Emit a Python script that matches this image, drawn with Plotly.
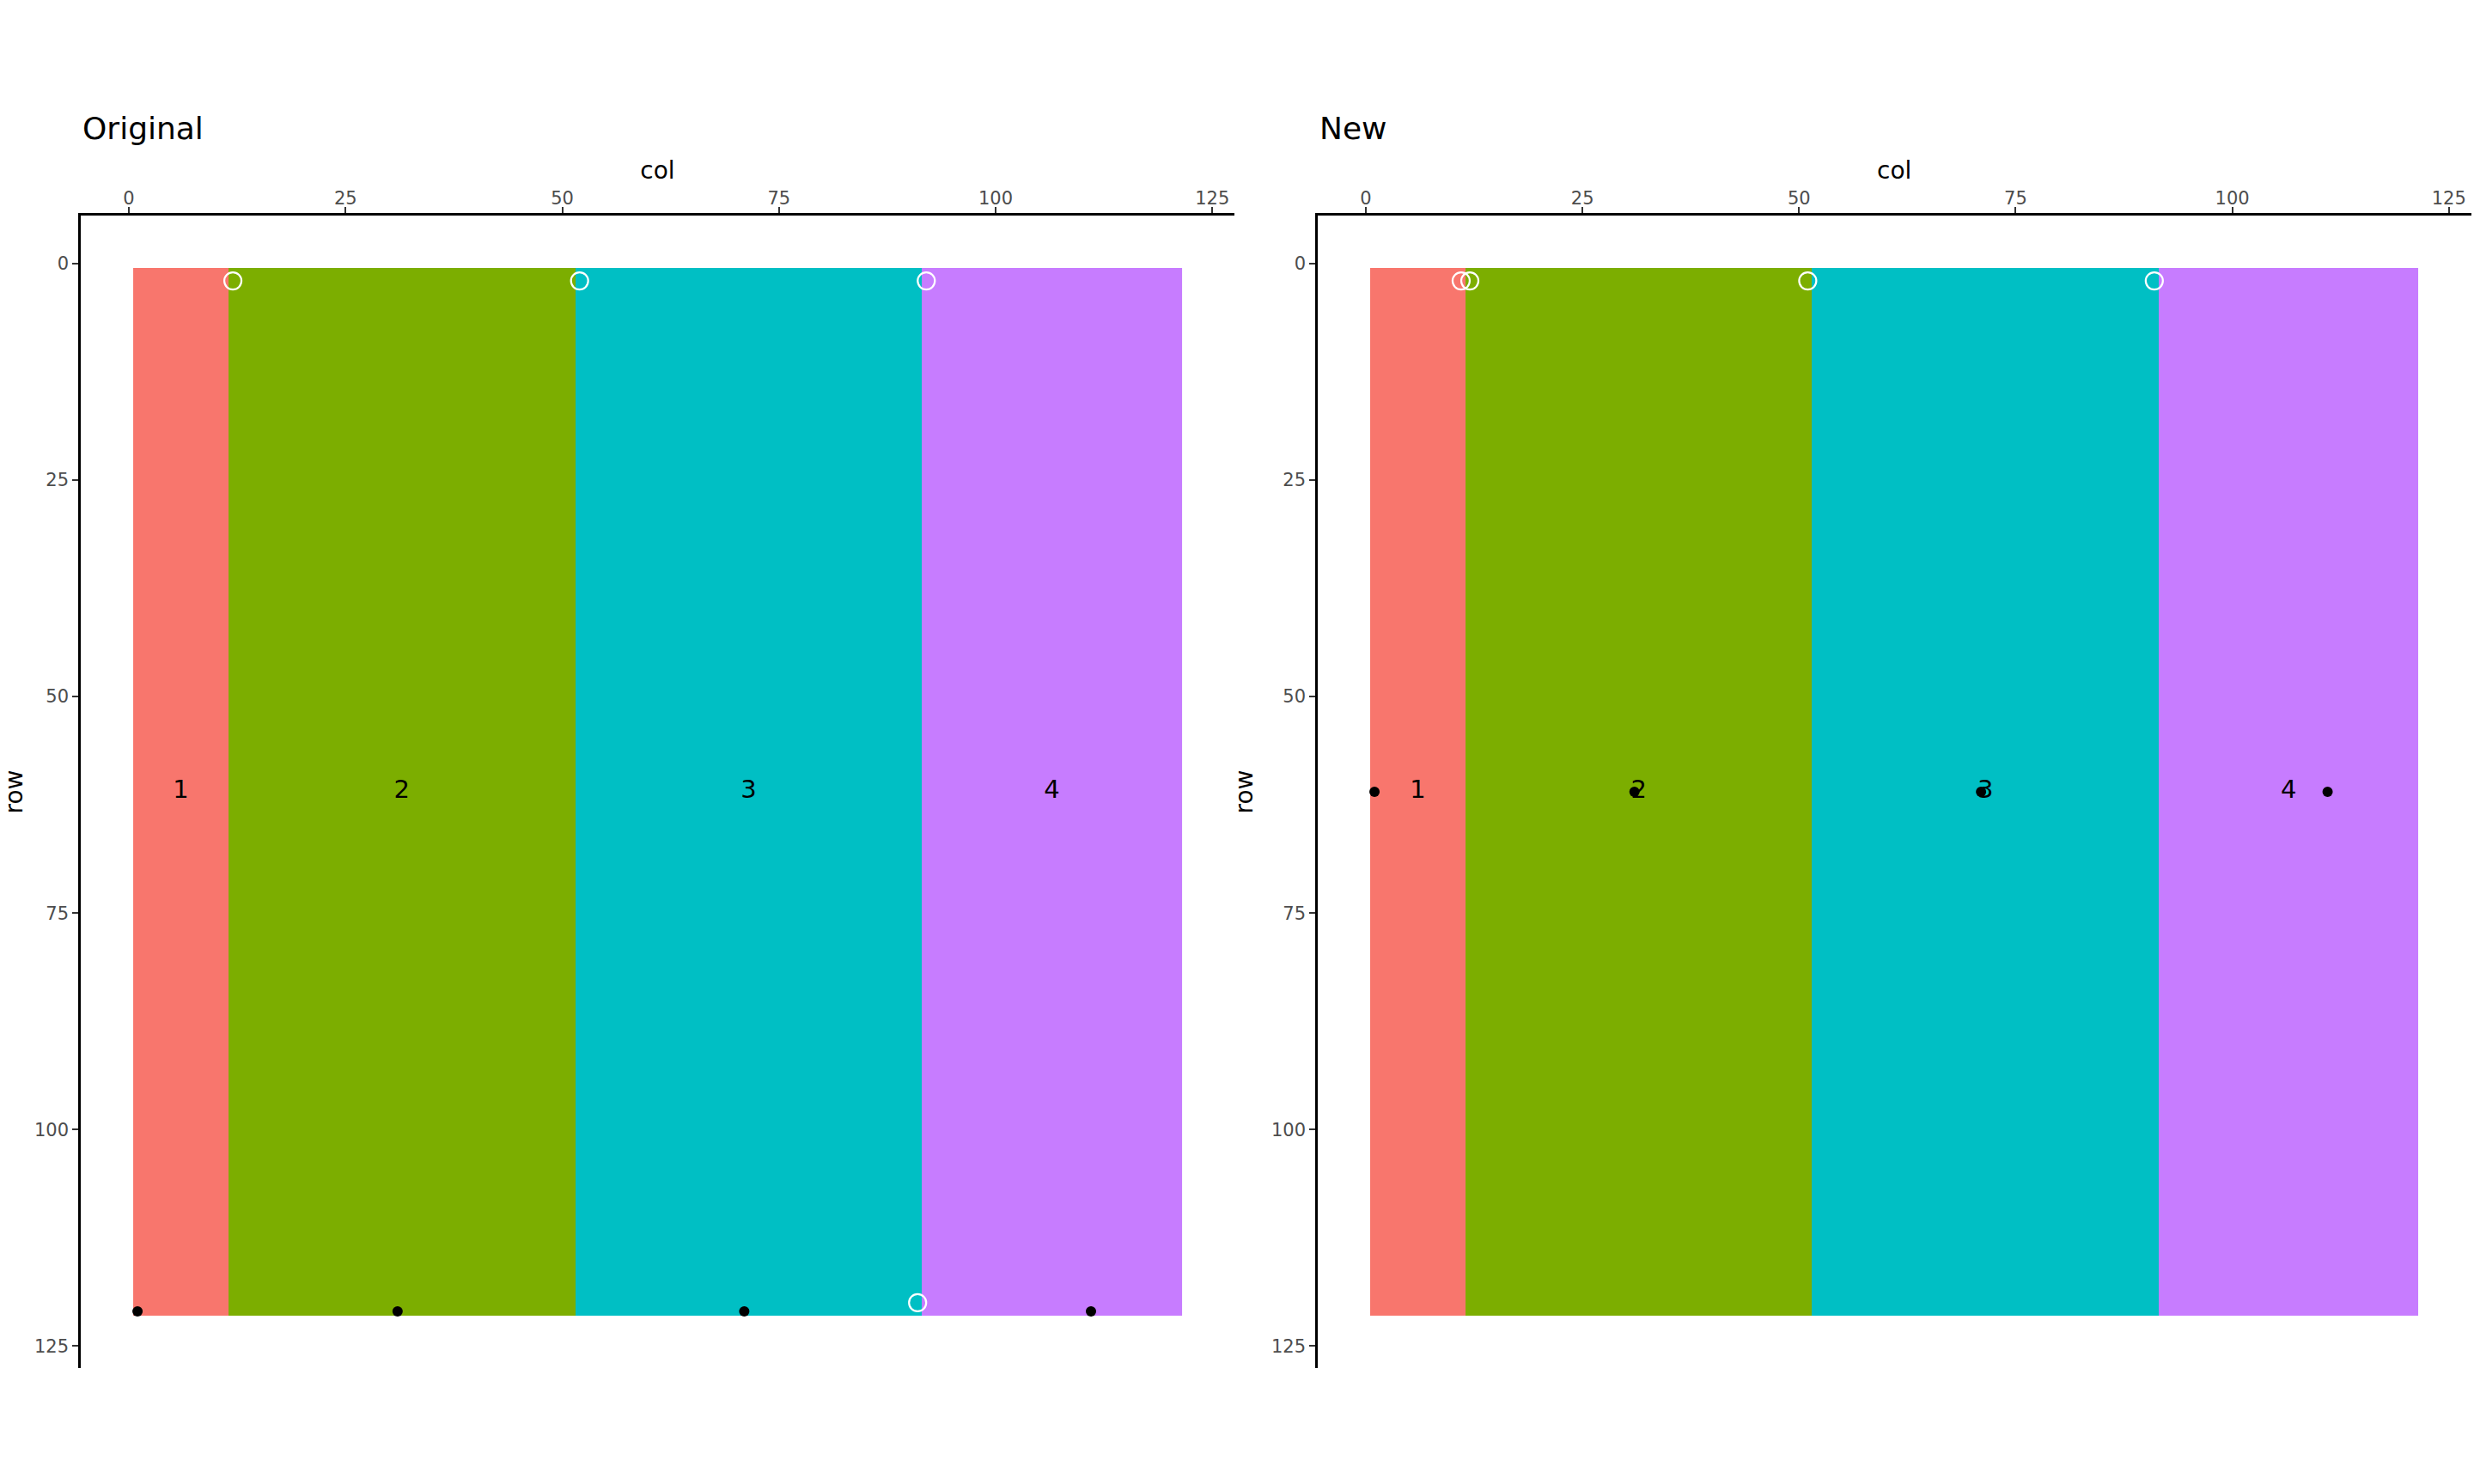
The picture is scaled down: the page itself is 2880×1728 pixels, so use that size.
import plotly.graph_objects as go

# ---- data ----
region_ids = [1, 2, 3, 4]
region_col_edges = [0.5, 11.5, 51.5, 91.5, 121.5]
row_edges = [0.5, 121.5]
region_colors = ["#F8766D", "#7CAE00", "#00BFC4", "#C77CFF"]
label_cols = [6, 31.5, 71.5, 106.5]
label_rows = [61, 61, 61, 61]

orig_open_cols = [12, 52, 92, 91]
orig_open_rows = [2, 2, 2, 120]
orig_dot_cols = [1, 31, 71, 111]
orig_dot_rows = [121, 121, 121, 121]

new_open_cols = [11, 12, 51, 91]
new_open_rows = [2, 2, 2, 2]
new_dot_cols = [1, 31, 71, 111]
new_dot_rows = [61, 61, 61, 61]

panel_titles = ["Original", "New"]
tick_vals = [0, 25, 50, 75, 100, 125]

W, H = 2880, 1728
FONT = "DejaVu Sans"

# discrete colorscale
cs = []
n = len(region_colors)
for i, c in enumerate(region_colors):
    cs.append([i / n, c])
    cs.append([(i + 1) / n, c])

fig = go.Figure()

panels = [
    dict(xa="x", ya="y", opc=orig_open_cols, opr=orig_open_rows, dc=orig_dot_cols, dr=orig_dot_rows),
    dict(xa="x2", ya="y2", opc=new_open_cols, opr=new_open_rows, dc=new_dot_cols, dr=new_dot_rows),
]

for p in panels:
    fig.add_trace(go.Heatmap(
        x=region_col_edges, y=row_edges, z=[region_ids],
        colorscale=cs, zmin=0.5, zmax=4.5, showscale=False,
        xaxis=p["xa"], yaxis=p["ya"], hoverinfo="skip"))
    fig.add_trace(go.Scatter(
        x=label_cols, y=label_rows, mode="text", text=[str(r) for r in region_ids],
        textfont=dict(family=FONT, size=29, color="black"),
        xaxis=p["xa"], yaxis=p["ya"], showlegend=False))
    fig.add_trace(go.Scatter(
        x=p["dc"], y=p["dr"], mode="markers",
        marker=dict(color="black", size=12),
        xaxis=p["xa"], yaxis=p["ya"], showlegend=False))
    fig.add_trace(go.Scatter(
        x=p["opc"], y=p["opr"], mode="markers",
        marker=dict(symbol="circle-open", color="white", size=20, line=dict(width=2.2, color="white")),
        xaxis=p["xa"], yaxis=p["ya"], showlegend=False))

xdoms = [[94 / W, 1437 / W], [1534 / W, 2876.5 / W]]
ydom = [1 - 1593 / H, 1 - 251 / H]
rng = [-5.55, 127.55]

axis_common = dict(
    showgrid=False, zeroline=False, showline=True, linecolor="black", linewidth=2.6,
    ticks="outside", ticklen=7, tickwidth=2, tickcolor="#333333",
    tickvals=tick_vals, ticktext=[str(t) for t in tick_vals],
    tickfont=dict(family=FONT, size=21, color="#4D4D4D"),
)

layout = dict(
    width=W, height=H, margin=dict(l=0, r=0, t=0, b=0),
    paper_bgcolor="white", plot_bgcolor="white", showlegend=False,
    font=dict(family=FONT),
)
for i, suffix in enumerate(["", "2"]):
    layout["xaxis" + suffix] = dict(
        axis_common, domain=xdoms[i], range=rng, side="top",
        anchor="y" + suffix, ticklabelstandoff=-5,
        title=dict(text="col", font=dict(family=FONT, size=28, color="black"), standoff=2),
    )
    layout["yaxis" + suffix] = dict(
        axis_common, domain=ydom, range=[rng[1], rng[0]],
        anchor="x" + suffix,
        title=dict(text="row", font=dict(family=FONT, size=28, color="black"), standoff=14),
    )

fig.update_layout(**layout)

for i, t in enumerate(panel_titles):
    fig.add_annotation(
        text=t, xref="paper", yref="paper", x=xdoms[i][0], y=1 - 149 / H,
        xanchor="left", yanchor="middle", showarrow=False,
        font=dict(family=FONT, size=36, color="black"))

fig.write_html("out.html")
